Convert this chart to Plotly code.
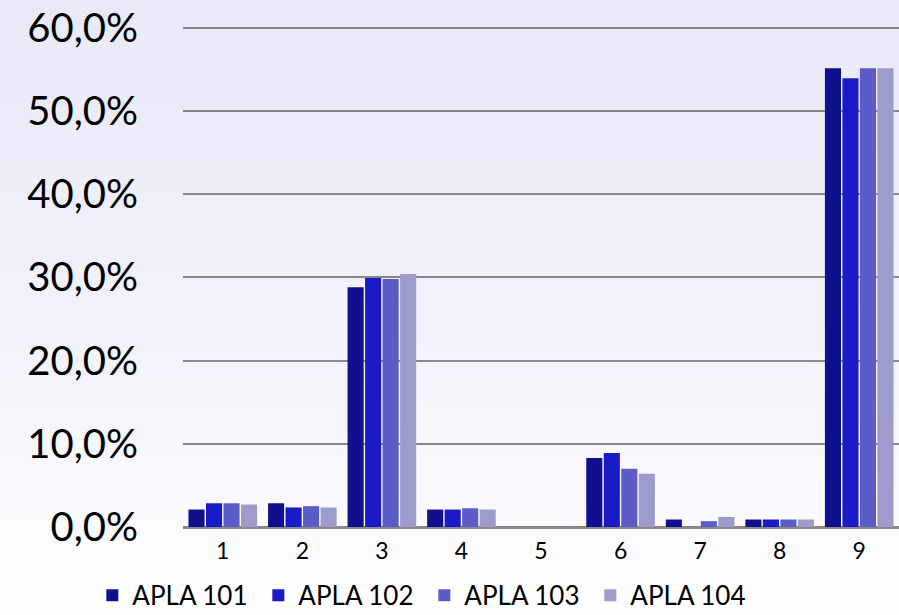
import plotly.graph_objects as go

categories = ["1", "2", "3", "4", "5", "6", "7", "8", "9"]
series_names = ["APLA 101", "APLA 102", "APLA 103", "APLA 104"]
apla101 = [2.1, 2.85, 28.8, 2.1, 0.0, 8.3, 0.9, 0.9, 55.1]
apla102 = [2.85, 2.35, 29.9, 2.1, 0.0, 8.9, 0.0, 0.9, 53.9]
apla103 = [2.85, 2.5, 29.8, 2.25, 0.0, 7.0, 0.7, 0.9, 55.1]
apla104 = [2.7, 2.35, 30.4, 2.1, 0.0, 6.4, 1.2, 0.9, 55.1]
y_ticks = [0, 10, 20, 30, 40, 50, 60]
y_tick_labels = ["0,0%", "10,0%", "20,0%", "30,0%", "40,0%", "50,0%", "60,0%"]

colors = ["#10108f", "#1a1ac6", "#5c5cc8", "#9c9ccc"]

fig = go.Figure()
for name, vals, c in zip(series_names, [apla101, apla102, apla103, apla104], colors):
    fig.add_trace(go.Bar(
        x=categories, y=vals, name=name,
        marker=dict(color=c, line=dict(width=0)),
    ))

font_family = "Lato, 'Open Sans', sans-serif"
fig.update_layout(
    width=899, height=615,
    margin=dict(l=183, r=0, t=25, b=88, autoexpand=False),
    paper_bgcolor="rgba(0,0,0,0)",
    plot_bgcolor="rgba(0,0,0,0)",
    barmode="group",
    bargap=0.12,
    bargroupgap=0.08,
    font=dict(family=font_family, color="#000000"),
    showlegend=True,
    legend=dict(
        orientation="h",
        xref="container", yref="container",
        x=0.472, xanchor="center",
        y=0.032, yanchor="middle",
        font=dict(size=26, family=font_family, color="#000000"),
        bgcolor="rgba(0,0,0,0)",
        entrywidth=121,
        itemsizing="constant",
    ),
    xaxis=dict(
        type="category",
        showgrid=False,
        showline=True, linecolor="#888888", linewidth=2,
        tickfont=dict(size=23, family=font_family, color="#000000"),
        ticks="", ticklabelstandoff=2,
    ),
    yaxis=dict(
        range=[0, 60.3],
        tickvals=y_ticks, ticktext=y_tick_labels,
        showgrid=True, gridcolor="#888888", gridwidth=2,
        zeroline=True, zerolinecolor="#888888", zerolinewidth=2,
        showline=False,
        tickfont=dict(size=40, family=font_family, color="#000000"),
        ticks="", ticklabelstandoff=44,
    ),
)

post = (
    "document.body.style.margin='0';"
    "document.body.style.overflow='hidden';"
    "document.body.style.background='linear-gradient(to bottom, #e9e9f8 0%, #f3f3fb 60%, #ffffff 100%)';"
)
fig.write_html("out.html", post_script=post, config={"displayModeBar": False})
